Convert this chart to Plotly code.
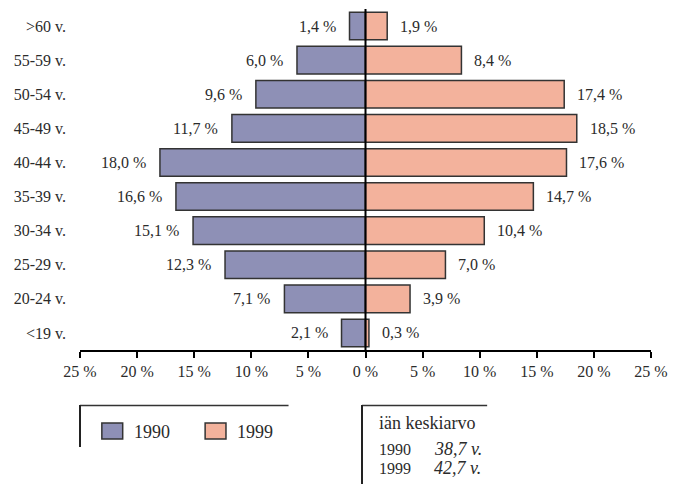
import plotly.graph_objects as go

# Age groups (top to bottom) and shares of each age group, %
age_groups = [">60 v.", "55-59 v.", "50-54 v.", "45-49 v.", "40-44 v.",
              "35-39 v.", "30-34 v.", "25-29 v.", "20-24 v.", "<19 v."]
share_1990 = [1.4, 6.0, 9.6, 11.7, 18.0, 16.6, 15.1, 12.3, 7.1, 2.1]
share_1999 = [1.9, 8.4, 17.4, 18.5, 17.6, 14.7, 10.4, 7.0, 3.9, 0.3]

tick_values = [-25, -20, -15, -10, -5, 0, 5, 10, 15, 20, 25]
tick_labels = ["25 %", "20 %", "15 %", "10 %", "5 %", "0 %",
               "5 %", "10 %", "15 %", "20 %", "25 %"]

mean_age_years = ["1990", "1999"]
mean_age_values = ["38,7 v.", "42,7 v."]

COLOR_1990 = "#8e90b6"
COLOR_1999 = "#f3b29c"
EDGE = "#333333"
TEXT = "#2b2b2b"
FONT = "Liberation Serif"

W, H = 677, 484
ML, MR, MT, MB = 80, 22, 9, 134
PW, PH = W - ML - MR, H - MT - MB


def fmt(v):
    return f"{v:.1f}".replace(".", ",") + " %"


def px_x(x):
    return (x - ML) / PW


def px_y(y):
    return (H - MB - y) / PH


fig = go.Figure()
fig.add_trace(go.Bar(
    y=age_groups, x=[-v for v in share_1990], orientation="h", name="1990",
    marker=dict(color=COLOR_1990, line=dict(color=EDGE, width=1.5)),
    width=0.81, hoverinfo="skip", showlegend=False))
fig.add_trace(go.Bar(
    y=age_groups, x=share_1999, orientation="h", name="1999",
    marker=dict(color=COLOR_1999, line=dict(color=EDGE, width=1.5)),
    width=0.81, hoverinfo="skip", showlegend=False))

annotations = []
for g, v in zip(age_groups, share_1990):
    annotations.append(dict(x=-v, y=g, xref="x", yref="y", text=fmt(v),
                            xanchor="right", xshift=-12, showarrow=False,
                            font=dict(family=FONT, size=16, color=TEXT)))
for g, v in zip(age_groups, share_1999):
    annotations.append(dict(x=v, y=g, xref="x", yref="y", text=fmt(v),
                            xanchor="left", xshift=11, showarrow=False,
                            font=dict(family=FONT, size=16, color=TEXT)))

shapes = [
    # zero line
    dict(type="line", xref="x", yref="paper", x0=0, x1=0, y0=0, y1=1,
         line=dict(color="black", width=2)),
    # legend frame
    dict(type="line", xref="paper", yref="paper", x0=px_x(80), x1=px_x(290),
         y0=px_y(405.5), y1=px_y(405.5), line=dict(color="#333", width=1.5)),
    dict(type="line", xref="paper", yref="paper", x0=px_x(80), x1=px_x(80),
         y0=px_y(405), y1=px_y(447), line=dict(color="#222", width=2)),
    # mean age frame
    dict(type="line", xref="paper", yref="paper", x0=px_x(364), x1=px_x(490),
         y0=px_y(405.5), y1=px_y(405.5), line=dict(color="#333", width=1.5)),
    dict(type="line", xref="paper", yref="paper", x0=px_x(364), x1=px_x(364),
         y0=px_y(405), y1=px_y(484), line=dict(color="#222", width=2)),
]

legend_items = [("1990", COLOR_1990, 102), ("1999", COLOR_1999, 206)]
for label, color, x0 in legend_items:
    shapes.append(dict(type="rect", xref="paper", yref="paper",
                       x0=px_x(x0), x1=px_x(x0 + 21), y0=px_y(439), y1=px_y(423),
                       fillcolor=color, line=dict(color=EDGE, width=1.5)))
    annotations.append(dict(x=px_x(x0 + 30), y=px_y(432), xref="paper", yref="paper",
                            text=label, xanchor="left", yanchor="middle", showarrow=False,
                            font=dict(family=FONT, size=18, color=TEXT)))

annotations.append(dict(x=px_x(379), y=px_y(423), xref="paper", yref="paper",
                        text="iän keskiarvo", xanchor="left", yanchor="middle",
                        showarrow=False, font=dict(family=FONT, size=18, color=TEXT)))
for i, (yr, val) in enumerate(zip(mean_age_years, mean_age_values)):
    yy = px_y(449 + 19 * i)
    annotations.append(dict(x=px_x(379), y=yy, xref="paper", yref="paper", text=yr,
                            xanchor="left", yanchor="middle", showarrow=False,
                            font=dict(family=FONT, size=16, color=TEXT)))
    annotations.append(dict(x=px_x(434), y=yy, xref="paper", yref="paper",
                            text=f"<i>{val}</i>", xanchor="left", yanchor="middle",
                            showarrow=False, font=dict(family=FONT, size=18, color=TEXT)))

fig.update_layout(
    width=W, height=H, margin=dict(l=ML, r=MR, t=MT, b=MB),
    paper_bgcolor="white", plot_bgcolor="white", barmode="overlay",
    font=dict(family=FONT, size=15, color=TEXT),
    shapes=shapes, annotations=annotations,
    xaxis=dict(range=[-25, 25], tickvals=tick_values, ticktext=tick_labels,
               showgrid=False, zeroline=False, showline=True, linecolor="black",
               linewidth=2, ticks="outside", ticklen=6, tickwidth=1.5,
               tickcolor="black", tickfont=dict(family=FONT, size=16, color=TEXT)),
    yaxis=dict(categoryorder="array", categoryarray=age_groups[::-1],
               range=[-0.5, 9.5], showgrid=False, zeroline=False, showline=False,
               ticks="", ticklabelstandoff=13,
               tickfont=dict(family=FONT, size=16, color=TEXT)),
)

fig.write_html("out.html")
